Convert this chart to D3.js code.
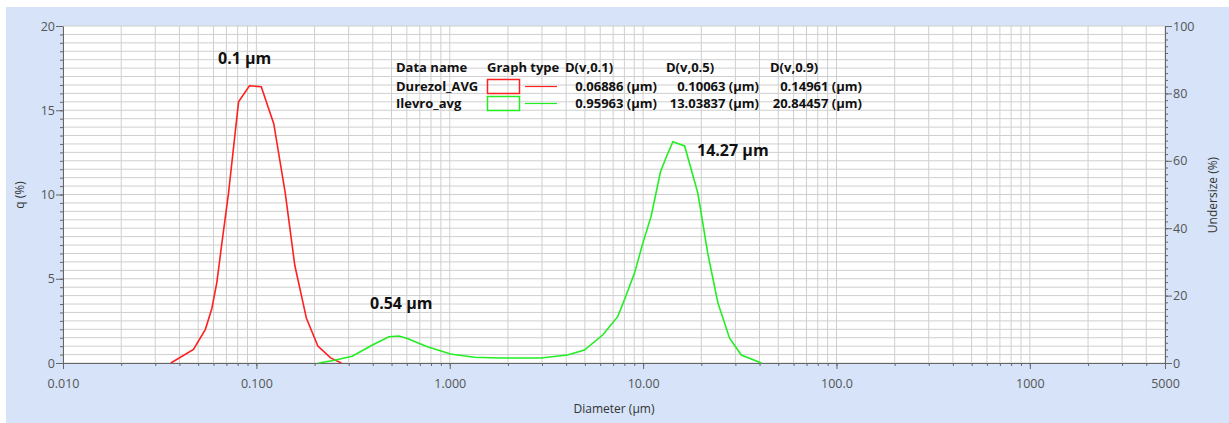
<!DOCTYPE html>
<html>
<head>
<meta charset="utf-8">
<script src="https://cdn.jsdelivr.net/npm/d3@7"></script>
<style>
  body { margin: 0; background: #fff; }
  text { font-family: "Open Sans", "Noto Sans", sans-serif; }
  .tick text { fill: #555; font-size: 12.5px; }
  .tick line, .domain { stroke: #666; }
</style>
</head>
<body>
<div id="chart"></div>
<script>
// chart size
const W = 1229, H = 423;

// data
const durezolSize = [0.0361, 0.0473, 0.0545, 0.0589, 0.0625, 0.0663, 0.0718, 0.0809, 0.0921, 0.106, 0.123, 0.141, 0.158, 0.1815, 0.208, 0.242, 0.275];
const durezolQ    = [0, 0.8, 2.0, 3.25, 4.8, 7.1, 10.1, 15.5, 16.45, 16.4, 14.2, 10.1, 5.8, 2.65, 1.0, 0.3, 0];

const ilevroSize = [0.210, 0.25, 0.313, 0.398, 0.485, 0.546, 0.604, 0.766, 1.01, 1.34, 1.8, 2.96, 4.07, 4.97, 6.18, 7.39, 8.0, 9.02, 9.96, 11.0, 12.3, 13.2, 14.25, 16.4, 19.2, 21.6, 24.4, 28.0, 32.2, 40.9];
const ilevroQ    = [0, 0.15, 0.4, 1.07, 1.56, 1.6, 1.46, 0.97, 0.53, 0.34, 0.3, 0.3, 0.47, 0.77, 1.66, 2.75, 3.74, 5.32, 7.1, 8.7, 11.35, 12.24, 13.13, 12.88, 10.07, 6.5, 3.54, 1.47, 0.47, 0];

const xTicks = [0.01, 0.1, 1, 10, 100, 1000, 5000];
const xTickLabels = ["0.010", "0.100", "1.000", "10.00", "100.0", "1000", "5000"];
const yTicks = [0, 5, 10, 15, 20];
const y2Ticks = [0, 20, 40, 60, 80, 100];

const legendHead = ["Data name", "Graph type", "D(v,0.1)", "D(v,0.5)", "D(v,0.9)"];
const legendNames = ["Durezol_AVG", "Ilevro_avg"];
const legendColors = ["#ff2020", "#22ee22"];
const legendD10 = ["0.06886 (µm)", "0.95963 (µm)"];
const legendD50 = ["0.10063 (µm)", "13.03837 (µm)"];
const legendD90 = ["0.14961 (µm)", "20.84457 (µm)"];

const peakLabels = ["0.1 µm", "0.54 µm", "14.27 µm"];
const peakSize = [0.1, 0.54, 14.27];
const peakQ = [17.74, 3.2, 12.28];

const svg = d3.select("#chart").append("svg")
  .attr("width", W)
  .attr("height", H);

// light blue panel
svg.append("rect")
  .attr("x", 6).attr("y", 7)
  .attr("width", W - 6).attr("height", H - 7)
  .attr("fill", "#d6e3f8");

const x = d3.scaleLog().domain([0.01, 5000]).range([63, 1165]);
const y = d3.scaleLinear().domain([0, 20]).range([363, 26]);
const y2 = d3.scaleLinear().domain([0, 100]).range([363, 26]);

svg.append("rect")
  .attr("x", x.range()[0]).attr("y", y(20))
  .attr("width", x.range()[1] - x.range()[0])
  .attr("height", y(0) - y(20))
  .attr("fill", "#fff");

// minor log values 1..9 per decade
let xMinor = [];
for (let e = -2; e <= 3; e++) {
  for (let m = 1; m <= 9; m++) {
    const v = m * Math.pow(10, e);
    if (v <= 5000) xMinor.push(+v.toPrecision(3));
  }
}
const yMinor = d3.range(0, 20.01, 0.5);
const y2Minor = d3.range(0, 100.01, 2);

// grid
svg.append("g").selectAll("line")
  .data(xMinor)
  .join("line")
  .attr("x1", d => x(d)).attr("x2", d => x(d))
  .attr("y1", y(20)).attr("y2", y(0))
  .attr("stroke", "#cfcfcf").attr("stroke-width", 1);

svg.append("g").selectAll("line")
  .data(yMinor)
  .join("line")
  .attr("x1", x.range()[0]).attr("x2", x.range()[1])
  .attr("y1", d => y(d)).attr("y2", d => y(d))
  .attr("stroke", "#cfcfcf").attr("stroke-width", 1);

// axes
svg.append("g")
  .attr("transform", `translate(0,${y(0)})`)
  .call(d3.axisBottom(x).tickValues(xMinor).tickSize(3).tickFormat(""))
  .call(g => g.select(".domain").remove());

svg.append("g")
  .attr("transform", `translate(0,${y(0)})`)
  .call(d3.axisBottom(x).tickValues(xTicks).tickSize(6).tickSizeOuter(0)
    .tickFormat((d, i) => xTickLabels[i]))
  .call(g => g.selectAll(".tick text").attr("dy", "1.3em"));

svg.append("g")
  .attr("transform", `translate(${x.range()[0]},0)`)
  .call(d3.axisLeft(y).tickValues(yMinor).tickSize(3).tickFormat(""))
  .call(g => g.select(".domain").remove());

svg.append("g")
  .attr("transform", `translate(${x.range()[0]},0)`)
  .call(d3.axisLeft(y).tickValues(yTicks).tickSize(7).tickSizeOuter(0).tickPadding(1));

svg.append("g")
  .attr("transform", `translate(${x.range()[1]},0)`)
  .call(d3.axisRight(y2).tickValues(y2Minor).tickSize(3).tickFormat(""))
  .call(g => g.select(".domain").remove());

svg.append("g")
  .attr("transform", `translate(${x.range()[1]},0)`)
  .call(d3.axisRight(y2).tickValues(y2Ticks).tickSize(7).tickSizeOuter(0).tickPadding(1));

// axis titles
svg.append("text")
  .attr("x", 614).attr("y", 413)
  .attr("text-anchor", "middle")
  .attr("font-size", 12).attr("fill", "#333")
  .text("Diameter (µm)");

svg.append("text")
  .attr("transform", "translate(24,195) rotate(-90)")
  .attr("text-anchor", "middle")
  .attr("font-size", 12).attr("fill", "#333")
  .text("q (%)");

svg.append("text")
  .attr("transform", "translate(1217,195) rotate(-90)")
  .attr("text-anchor", "middle")
  .attr("font-size", 12).attr("fill", "#333")
  .text("Undersize (%)");

// curves
const line = d3.line().x(d => x(d[0])).y(d => y(d[1]));

svg.append("path")
  .datum(d3.zip(durezolSize, durezolQ))
  .attr("fill", "none")
  .attr("stroke", legendColors[0])
  .attr("stroke-width", 1.6)
  .attr("d", line);

svg.append("path")
  .datum(d3.zip(ilevroSize, ilevroQ))
  .attr("fill", "none")
  .attr("stroke", legendColors[1])
  .attr("stroke-width", 1.6)
  .attr("d", line);

// peak labels
svg.append("g").selectAll("text")
  .data(peakLabels)
  .join("text")
  .attr("x", (d, i) => [218, 370, 697][i])
  .attr("y", (d, i) => y(peakQ[i]))
  .attr("font-size", 16).attr("font-weight", "bold").attr("fill", "#111")
  .text(d => d);

// legend
const leg = svg.append("g").attr("font-size", 13).attr("font-weight", "bold").attr("fill", "#111");
const headX = [396, 487, 565, 666, 770];
leg.selectAll(".head")
  .data(legendHead)
  .join("text")
  .attr("class", "head")
  .attr("x", (d, i) => headX[i]).attr("y", 72)
  .text(d => d);

legendNames.forEach((n, i) => {
  const yy = 91 + i * 17;
  leg.append("text").attr("x", 396).attr("y", yy).text(n);
  leg.append("rect")
    .attr("x", 487.5).attr("y", yy - 11.5)
    .attr("width", 32).attr("height", 14)
    .attr("fill", "none").attr("stroke", legendColors[i]).attr("stroke-width", 1.5);
  leg.append("line")
    .attr("x1", 525).attr("x2", 557)
    .attr("y1", yy - 4.5).attr("y2", yy - 4.5)
    .attr("stroke", legendColors[i]).attr("stroke-width", 1.2);
  leg.append("text").attr("x", 657).attr("y", yy).attr("text-anchor", "end").text(legendD10[i]);
  leg.append("text").attr("x", 759).attr("y", yy).attr("text-anchor", "end").text(legendD50[i]);
  leg.append("text").attr("x", 862).attr("y", yy).attr("text-anchor", "end").text(legendD90[i]);
});
</script>
</body>
</html>
